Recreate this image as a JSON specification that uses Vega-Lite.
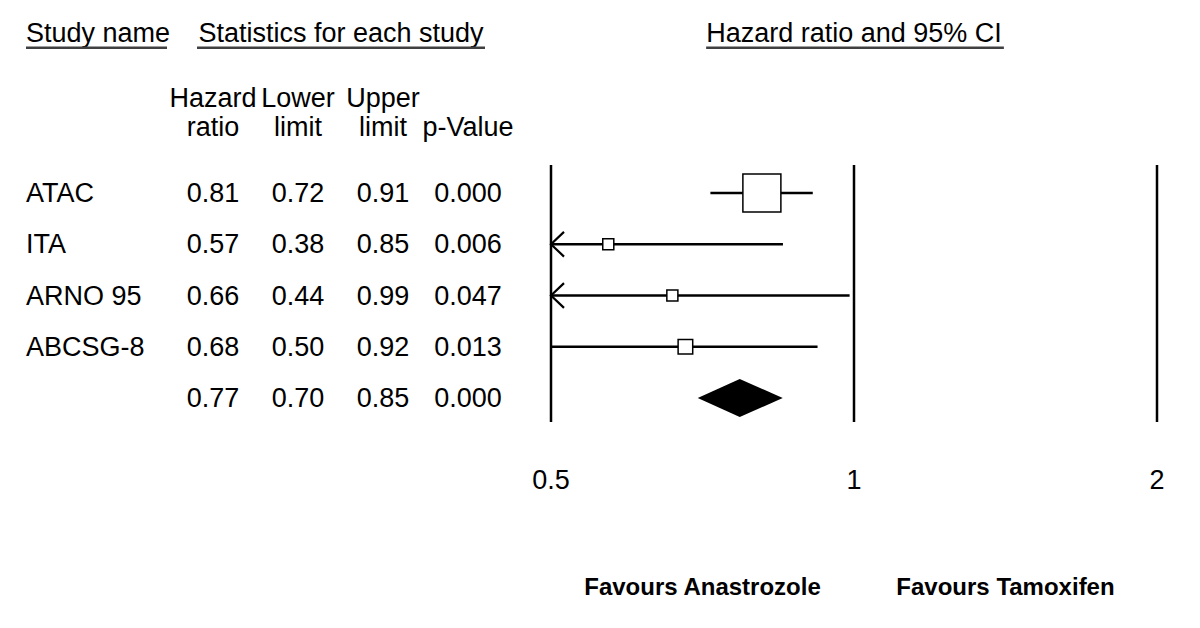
{
  "$schema": "https://vega.github.io/schema/vega-lite/v6.json",
  "width": 1200,
  "height": 628,
  "autosize": {"type": "fit", "contains": "padding"},
  "padding": 0,
  "background": "white",
  "config": {"view": {"stroke": null}, "font": "Liberation Sans", "text": {"font": "Liberation Sans", "color": "black"}},
  "data": {"values": [{}]},
  "datasets": {
    "studies": [
      {"study": "ATAC", "hr": 0.81, "lower": 0.72, "upper": 0.91, "p": 0.000, "row": 1, "weight": 75.9, "kind": "study"},
      {"study": "ITA", "hr": 0.57, "lower": 0.38, "upper": 0.85, "p": 0.006, "row": 2, "weight": 6.4, "kind": "study"},
      {"study": "ARNO 95", "hr": 0.66, "lower": 0.44, "upper": 0.99, "p": 0.047, "row": 3, "weight": 6.4, "kind": "study"},
      {"study": "ABCSG-8", "hr": 0.68, "lower": 0.50, "upper": 0.92, "p": 0.013, "row": 4, "weight": 11.2, "kind": "study"},
      {"study": "", "hr": 0.77, "lower": 0.70, "upper": 0.85, "p": 0.000, "row": 5, "weight": null, "kind": "summary"}
    ],
    "ticks": [{"tick": 0.5, "label": "0.5"}, {"tick": 1, "label": "1"}, {"tick": 2, "label": "2"}],
    "headers": [
      {"col": 1, "label": "Hazard\nratio"},
      {"col": 2, "label": "Lower\nlimit"},
      {"col": 3, "label": "Upper\nlimit"},
      {"col": 4, "label": "\np-Value"}
    ]
  },
  "resolve": {"scale": {"x": "independent"}},
  "layer": [
    {
      "layer": [
        {
          "data": {"name": "studies"},
          "mark": {"type": "text", "align": "left", "baseline": "alphabetic", "dy": 9, "fontSize": 27},
          "encoding": {
            "x": {"datum": -1.2, "type": "quantitative", "scale": {"domain": [1, 4], "range": [213, 468], "zero": false, "nice": false}, "axis": null},
            "y": {"field": "row", "type": "quantitative", "scale": {"domain": [1, 5], "range": [193, 398], "zero": false, "nice": false}, "axis": null},
            "text": {"field": "study"}
          }
        },
        {
          "data": {"name": "studies"},
          "mark": {"type": "text", "align": "center", "baseline": "alphabetic", "dy": 9, "fontSize": 27},
          "encoding": {
            "x": {"datum": 1, "type": "quantitative", "axis": null},
            "y": {"field": "row", "type": "quantitative", "axis": null},
            "text": {"field": "hr", "format": ".2f"}
          }
        },
        {
          "data": {"name": "studies"},
          "mark": {"type": "text", "align": "center", "baseline": "alphabetic", "dy": 9, "fontSize": 27},
          "encoding": {
            "x": {"datum": 2, "type": "quantitative", "axis": null},
            "y": {"field": "row", "type": "quantitative", "axis": null},
            "text": {"field": "lower", "format": ".2f"}
          }
        },
        {
          "data": {"name": "studies"},
          "mark": {"type": "text", "align": "center", "baseline": "alphabetic", "dy": 9, "fontSize": 27},
          "encoding": {
            "x": {"datum": 3, "type": "quantitative", "axis": null},
            "y": {"field": "row", "type": "quantitative", "axis": null},
            "text": {"field": "upper", "format": ".2f"}
          }
        },
        {
          "data": {"name": "studies"},
          "mark": {"type": "text", "align": "center", "baseline": "alphabetic", "dy": 9, "fontSize": 27},
          "encoding": {
            "x": {"datum": 4, "type": "quantitative", "axis": null},
            "y": {"field": "row", "type": "quantitative", "axis": null},
            "text": {"field": "p", "format": ".3f"}
          }
        },
        {
          "data": {"name": "headers"},
          "mark": {"type": "text", "align": "center", "baseline": "alphabetic", "dy": 9, "fontSize": 27, "lineBreak": "\n", "lineHeight": 29.5},
          "encoding": {
            "x": {"field": "col", "type": "quantitative", "axis": null},
            "y": {"datum": -0.863, "type": "quantitative", "axis": null},
            "text": {"field": "label"}
          }
        },
        {
          "mark": {"type": "text", "align": "left", "baseline": "alphabetic", "dy": 9, "fontSize": 27, "text": "Study name"},
          "encoding": {
            "x": {"datum": -1.2, "type": "quantitative", "axis": null},
            "y": {"datum": -2.128, "type": "quantitative", "axis": null}
          }
        },
        {
          "mark": {"type": "text", "align": "center", "baseline": "alphabetic", "dy": 9, "fontSize": 27, "text": "Statistics for each study"},
          "encoding": {
            "x": {"datum": 2.506, "type": "quantitative", "axis": null},
            "y": {"datum": -2.128, "type": "quantitative", "axis": null}
          }
        },
        {
          "mark": {"type": "rule", "strokeWidth": 2.5, "color": "#404040"},
          "encoding": {
            "x": {"datum": -1.2, "type": "quantitative", "axis": null},
            "x2": {"datum": 0.459},
            "y": {"datum": -1.835, "type": "quantitative", "axis": null}
          }
        },
        {
          "mark": {"type": "rule", "strokeWidth": 2.5, "color": "#404040"},
          "encoding": {
            "x": {"datum": 0.812, "type": "quantitative", "axis": null},
            "x2": {"datum": 4.2},
            "y": {"datum": -1.835, "type": "quantitative", "axis": null}
          }
        }
      ]
    },
    {
      "layer": [
        {
          "data": {"name": "ticks"},
          "mark": {"type": "rule", "strokeWidth": 2.5, "color": "black"},
          "encoding": {
            "x": {"field": "tick", "type": "quantitative", "scale": {"type": "log", "domain": [0.5, 2], "range": [551, 1157], "clamp": true, "nice": false}, "axis": null},
            "y": {"datum": 0.454, "type": "quantitative", "axis": null},
            "y2": {"datum": 5.468}
          }
        },
        {
          "data": {"name": "ticks"},
          "mark": {"type": "text", "align": "center", "baseline": "alphabetic", "dy": 9, "fontSize": 27},
          "encoding": {
            "x": {"field": "tick", "type": "quantitative", "axis": null},
            "y": {"datum": 6.6, "type": "quantitative", "axis": null},
            "text": {"field": "label"}
          }
        },
        {
          "data": {"name": "studies"},
          "transform": [{"filter": "datum.kind === 'study'"}],
          "mark": {"type": "rule", "strokeWidth": 2.5, "color": "black"},
          "encoding": {
            "x": {"field": "lower", "type": "quantitative", "axis": null},
            "x2": {"field": "upper"},
            "y": {"field": "row", "type": "quantitative", "axis": null}
          }
        },
        {
          "data": {"name": "studies"},
          "transform": [{"filter": "datum.kind === 'study' && datum.lower < 0.5"}],
          "mark": {"type": "point", "filled": false, "stroke": "black", "strokeWidth": 2.2, "size": 169, "shape": "M 2 -1.9 L 0 0 L 2 1.9", "opacity": 1},
          "encoding": {
            "x": {"datum": 0.5, "type": "quantitative", "axis": null},
            "y": {"field": "row", "type": "quantitative", "axis": null}
          }
        },
        {
          "data": {"name": "studies"},
          "transform": [{"filter": "datum.kind === 'study'"}],
          "mark": {"type": "point", "shape": "square", "filled": true, "fill": "white", "stroke": "black", "strokeWidth": 1.5, "opacity": 1},
          "encoding": {
            "x": {"field": "hr", "type": "quantitative", "axis": null},
            "y": {"field": "row", "type": "quantitative", "axis": null},
            "size": {"field": "weight", "type": "quantitative", "scale": {"domain": [0, 75.9], "range": [0, 1444], "zero": true}, "legend": null}
          }
        },
        {
          "data": {"name": "studies"},
          "transform": [{"filter": "datum.kind === 'summary'"}],
          "mark": {"type": "point", "filled": true, "color": "black", "opacity": 1, "size": 7396, "shape": "M -0.977 0 L 0 -0.442 L 1 0 L 0 0.442 Z"},
          "encoding": {
            "x": {"field": "hr", "type": "quantitative", "axis": null},
            "y": {"field": "row", "type": "quantitative", "axis": null}
          }
        },
        {
          "mark": {"type": "text", "align": "center", "baseline": "alphabetic", "dy": 9, "fontSize": 27, "text": "Hazard ratio and 95% CI"},
          "encoding": {
            "x": {"datum": 1, "type": "quantitative", "axis": null},
            "y": {"datum": -2.128, "type": "quantitative", "axis": null}
          }
        },
        {
          "mark": {"type": "rule", "strokeWidth": 2.5, "color": "#404040"},
          "encoding": {
            "x": {"datum": 0.713, "type": "quantitative", "axis": null},
            "x2": {"datum": 1.409},
            "y": {"datum": -1.835, "type": "quantitative", "axis": null}
          }
        },
        {
          "mark": {"type": "text", "align": "center", "baseline": "alphabetic", "dy": 8, "fontSize": 24, "fontWeight": "bold", "text": "Favours Anastrozole"},
          "encoding": {
            "x": {"datum": 0.7071, "type": "quantitative", "axis": null},
            "y": {"datum": 8.688, "type": "quantitative", "axis": null}
          }
        },
        {
          "mark": {"type": "text", "align": "center", "baseline": "alphabetic", "dy": 8, "fontSize": 24, "fontWeight": "bold", "text": "Favours Tamoxifen"},
          "encoding": {
            "x": {"datum": 1.4142, "type": "quantitative", "axis": null},
            "y": {"datum": 8.688, "type": "quantitative", "axis": null}
          }
        }
      ]
    }
  ]
}
